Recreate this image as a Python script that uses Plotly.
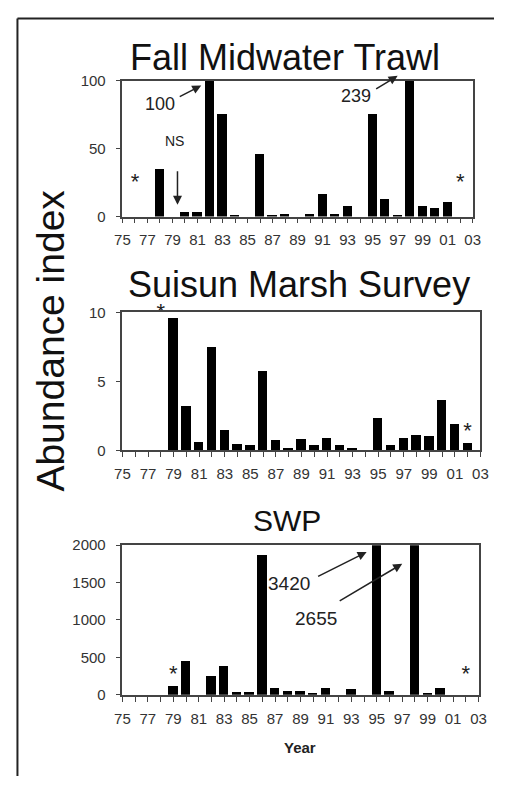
import plotly.graph_objects as go

years = list(range(1975, 2004))
tick_text = [f"{y % 100:02d}" if y % 2 == 1 else "" for y in years]

fmwt = [None, None, None, 35, None, 3.5, 3.5, 100, 76, 1.5, None, 46, 1.5, 2.5, None,
        2.5, 17, 2.5, 8, None, 76, 13, 1, 239, 8, 6.5, 11, None, None]
suisun = [None, None, None, None, 9.6, 3.2, 0.6, 7.45, 1.45, 0.45, 0.35, 5.75, 0.7, 0.15, 0.8,
          0.35, 0.9, 0.35, 0.15, None, 2.3, 0.35, 0.9, 1.1, 1.0, 3.6, 1.85, 0.47, None]
swp = [None, None, None, None, 110, 445, None, 250, 385, 30, 42, 1870, 88, 48, 48,
       26, 88, None, 70, None, 3420, 48, None, 2655, 26, 88, None, None, None]

fmwt_star_years = [1976, 2002]
fmwt_star_vals = [24, 24]
suisun_star_years = [1978, 2002]
suisun_star_vals = [9.9, 1.3]
swp_star_years = [1979, 2002]
swp_star_vals = [260, 260]

FONT = "Liberation Sans, Arial, sans-serif"
# page is 510x792; the html body keeps its default 8px margin
OFF = 8
W, H = 510 - 2 * OFF, 792 - 2 * OFF

fig = go.Figure()
panels = [("x", "y", fmwt, fmwt_star_years, fmwt_star_vals),
          ("x2", "y2", suisun, suisun_star_years, suisun_star_vals),
          ("x3", "y3", swp, swp_star_years, swp_star_vals)]
for xa, ya, vals, sy, sv in panels:
    fig.add_trace(go.Bar(x=years, y=vals, width=0.74, marker=dict(color="black", line=dict(width=0)),
                         xaxis=xa, yaxis=ya, showlegend=False, hoverinfo="skip"))
    fig.add_trace(go.Scatter(x=sy, y=sv, mode="text", text=["*"] * len(sy),
                             textfont=dict(family=FONT, size=22, color="#222"),
                             xaxis=xa, yaxis=ya, showlegend=False, cliponaxis=False, hoverinfo="skip"))

def px_y(p):
    return 1 - (p - OFF) / H

def px_x(p):
    return (p - OFF) / W

xcommon = dict(range=[1975, 2003], tickmode="array", tickvals=years, ticktext=tick_text,
               ticks="outside", ticklen=5, tickwidth=1.2, tickcolor="#444",
               showline=True, linecolor="#444", linewidth=1.5, mirror=True,
               showgrid=False, zeroline=False, tickangle=0,
               tickfont=dict(family=FONT, size=15, color="#333"), ticklabelstandoff=4)
ycommon = dict(ticks="outside", ticklen=5, tickwidth=1.2, tickcolor="#444",
               showline=True, linecolor="#444", linewidth=1.5, mirror=True,
               showgrid=False, zeroline=False,
               tickfont=dict(family=FONT, size=15, color="#333"), ticklabelstandoff=7)

fig.update_layout(
    width=W, height=H, margin=dict(l=0, r=0, t=0, b=0),
    paper_bgcolor="white", plot_bgcolor="white", bargap=0,
    xaxis=dict(domain=[px_x(118), px_x(480)], anchor="y", **xcommon),
    yaxis=dict(domain=[px_y(212), px_y(73)], anchor="x", range=[0, 100], tickvals=[0, 50, 100], **ycommon),
    xaxis2=dict(domain=[px_x(118), px_x(488)], anchor="y2", **xcommon),
    yaxis2=dict(domain=[px_y(451), px_y(310)], anchor="x2", range=[0, 10], tickvals=[0, 5, 10], **ycommon),
    xaxis3=dict(domain=[px_x(118), px_x(486)], anchor="y3", **xcommon),
    yaxis3=dict(domain=[px_y(701), px_y(548)], anchor="x3", range=[0, 2000],
                tickvals=[0, 500, 1000, 1500, 2000], **ycommon),
)

ann = []
def title(text, xc, yc, size):
    ann.append(dict(text=text, x=px_x(xc), y=px_y(yc), xref="paper", yref="paper",
                    showarrow=False, xanchor="center", yanchor="middle",
                    font=dict(family=FONT, size=size, color="#111")))

title("Fall Midwater Trawl", 286, 49, 36)
title("Suisun Marsh Survey", 300, 281, 36)
title("SWP", 288, 523, 30)

ann.append(dict(text="Abundance index", x=px_x(44), y=px_y(339), xref="paper", yref="paper",
                showarrow=False, textangle=-90, xanchor="center", yanchor="middle",
                font=dict(family=FONT, size=39, color="#111")))
ann.append(dict(text="<b>Year</b>", x=px_x(302), y=px_y(755), xref="paper", yref="paper",
                showarrow=False, xanchor="center", yanchor="middle",
                font=dict(family=FONT, size=15, color="#222")))

def label(text, x, y, xr, yr, size=18):
    ann.append(dict(text=text, x=x, y=y, xref=xr, yref=yr, showarrow=False,
                    font=dict(family=FONT, size=size, color="#222")))

def arrow(x, y, ax, ay, xr, yr):
    ann.append(dict(text="", x=x, y=y, xref=xr, yref=yr, ax=ax, ay=ay, axref="pixel", ayref="pixel",
                    showarrow=True, arrowhead=2, arrowsize=1.2, arrowwidth=1.5, arrowcolor="#222"))

# top panel
label("100", 1978.0, 82.7, "x", "y")
arrow(1981.3, 96.4, -23, 12, "x", "y")
label("239", 1993.7, 89, "x", "y")
arrow(1997.0, 1.035, -23, 14, "x", "y domain")
label("NS", 1979.2, 55.4, "x", "y", size=14)
arrow(1979.4, 8.6, 0, -35, "x", "y")
# bottom panel
label("3420", 1988.1, 1489, "x3", "y3", size=19)
arrow(1994.2, 1908, -50, 25, "x3", "y3")
label("2655", 1990.2, 1018, "x3", "y3", size=19)
arrow(1997.0, 1751, -64, 38, "x3", "y3")

fig.update_layout(annotations=ann)

# outer frame (top and left edges only)
fig.add_shape(type="line", xref="paper", yref="paper", x0=1.5 / W, x1=1.0, y0=1 - 1.5 / H, y1=1 - 1.5 / H,
              line=dict(color="#222", width=2))
fig.add_shape(type="line", xref="paper", yref="paper", x0=1.5 / W, x1=1.5 / W, y0=0.0, y1=1 - 1.5 / H,
              line=dict(color="#222", width=2))

fig.write_html("out.html", config={"displayModeBar": False})
